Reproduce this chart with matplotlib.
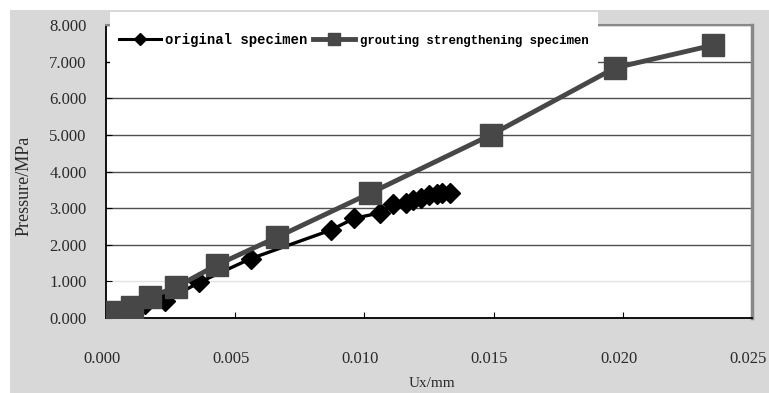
import numpy as np
import matplotlib
matplotlib.use("Agg")
import matplotlib.pyplot as plt
import matplotlib.transforms as mtransforms
from matplotlib.lines import Line2D
from matplotlib.patches import Rectangle

# values
original_x = [0.0004, 0.0010, 0.0015, 0.0023, 0.0036, 0.0056, 0.0087, 0.0096,
              0.0106, 0.0111, 0.0116, 0.0119, 0.0122, 0.0125, 0.0128, 0.0130, 0.0133]
original_y = [0.10, 0.22, 0.38, 0.47, 0.97, 1.62, 2.40, 2.72,
              2.87, 3.10, 3.15, 3.22, 3.28, 3.37, 3.39, 3.42, 3.42]

grout_x = [0.0004, 0.0010, 0.0017, 0.0027, 0.0043, 0.0066, 0.0102, 0.0149, 0.0197, 0.0235]
grout_y = [0.16, 0.30, 0.57, 0.84, 1.45, 2.20, 3.40, 5.00, 6.83, 7.45]

x_ticks = [0.0, 0.005, 0.010, 0.015, 0.020, 0.025]
y_ticks = [0, 1, 2, 3, 4, 5, 6, 7, 8]
series_names = ["original specimen", "grouting strengthening specimen"]

W, H = 769, 393
serif = "Liberation Serif"
mono = "Liberation Mono"

fig = plt.figure(figsize=(W / 100, H / 100), dpi=100)
fig.patch.set_facecolor("white")

# scanned gray background
fig.patches.append(Rectangle((10 / W, 0), 1 - 10 / W, 1 - 10 / H, transform=fig.transFigure,
                             facecolor="#d8d8d8", edgecolor="none", zorder=-10))

ax = fig.add_axes([106 / W, 75 / H, 646 / W, 293 / H])
ax.set_facecolor("white")

ax.plot(original_x, original_y, color="black", lw=2.4, marker="D", ms=10,
        mfc="black", mec="black", zorder=3)
ax.plot(grout_x, grout_y, color="#474747", lw=3.5, marker="s", ms=16,
        mfc="#474747", mec="#474747", zorder=4)

ax.set_xlim(0, 0.025)
ax.set_ylim(0, 8)
ax.set_xticks(x_ticks)
ax.set_yticks(y_ticks)
ax.set_xticklabels(["%.3f" % v for v in x_ticks], fontfamily=serif, fontsize=12, color="#2a2a2a")
ax.set_yticklabels(["%.3f" % v for v in y_ticks], fontfamily=serif, fontsize=12, color="#2a2a2a")
ax.tick_params(axis="x", direction="in", length=4, pad=24, color="black")
ax.tick_params(axis="y", direction="in", length=4, pad=14, color="black")

# x labels in the scan sit a little left of their ticks
shift = mtransforms.ScaledTranslation(-4 / 100, 0, fig.dpi_scale_trans)
for lab in ax.get_xticklabels():
    lab.set_transform(lab.get_transform() + shift)

ax.yaxis.grid(True, color="#505050", lw=1)
ax.yaxis.get_gridlines()[1].set_color("#e2e2e2")
ax.set_axisbelow(True)

for s in ["left", "bottom"]:
    ax.spines[s].set_color("black")
    ax.spines[s].set_linewidth(1.3)
ax.spines["top"].set_color("#888888")
ax.spines["top"].set_linewidth(1.5)
ax.spines["right"].set_color("#888888")
ax.spines["right"].set_linewidth(2.5)

ax.set_xlabel("Ux/mm", fontfamily=serif, fontsize=11, color="#2a2a2a")
ax.xaxis.set_label_coords(0.505, -0.2)
ax.xaxis.label.set_va("top")
ax.set_ylabel("Pressure/MPa", fontfamily=serif, fontsize=13, color="#2a2a2a")
ax.yaxis.set_label_coords(-0.113, 0.45)

# white legend box sitting over the top of the plot
fig.patches.append(Rectangle((110 / W, 1 - 66 / H), 488 / W, 54 / H, transform=fig.transFigure,
                             facecolor="white", edgecolor="none", zorder=2))
handles = [
    Line2D([], [], color="black", lw=2.2, marker="D", ms=6, mfc="black"),
    Line2D([], [], color="#474747", lw=3.5, marker="s", ms=9, mfc="#474747"),
]
leg = fig.legend(handles, series_names, loc="center left", bbox_to_anchor=(112 / W, 1 - 40 / H),
                 ncol=2, frameon=False, handlelength=3.0, handletextpad=0.35, columnspacing=0.4,
                 borderpad=0, prop={"family": mono, "size": 10, "weight": "bold"})
leg.get_texts()[1].set_fontsize(8.9)
leg.set_zorder(5)

fig.savefig("out.png", dpi=100, facecolor=fig.get_facecolor())
